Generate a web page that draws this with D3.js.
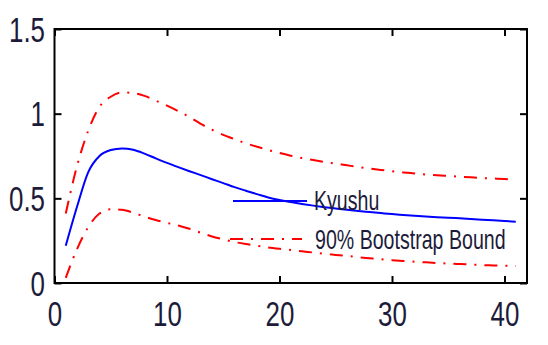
<!DOCTYPE html>
<html>
<head>
<meta charset="utf-8">
<script src="https://cdn.jsdelivr.net/npm/d3@7"></script>
<style>
  html, body { margin: 0; padding: 0; background: #fff; }
  svg { display: block; }
</style>
</head>
<body>
<svg id="chart" width="548" height="345"></svg>
<script>
// Impulse response for Kyushu with 90% bootstrap bounds, horizons 1..41
const horizons = d3.range(1, 42);

const kyushu = [
  0.22, 0.45, 0.655, 0.75, 0.785, 0.795, 0.787, 0.764, 0.736, 0.709,
  0.684, 0.66, 0.637, 0.613, 0.59, 0.566, 0.545, 0.525, 0.505, 0.49,
  0.478, 0.467, 0.457, 0.448, 0.44, 0.432, 0.425, 0.419, 0.413, 0.407,
  0.402, 0.397, 0.393, 0.389, 0.386, 0.382, 0.378, 0.374, 0.37, 0.366,
  0.362
];

const upperBound = [
  0.41, 0.69, 0.90, 1.04, 1.10, 1.125, 1.122, 1.105, 1.077, 1.047,
  1.015, 0.98, 0.94, 0.905, 0.875, 0.85, 0.825, 0.805, 0.785, 0.768,
  0.752, 0.738, 0.726, 0.715, 0.705, 0.695, 0.685, 0.676, 0.668, 0.66,
  0.653, 0.647, 0.641, 0.636, 0.632, 0.628, 0.624, 0.62, 0.617, 0.614,
  0.61
];

const lowerBound = [
  0.03, 0.20, 0.33, 0.41, 0.435, 0.432, 0.415, 0.392, 0.372, 0.355,
  0.34, 0.32, 0.297, 0.275, 0.258, 0.242, 0.23, 0.22, 0.21, 0.202,
  0.195, 0.187, 0.18, 0.172, 0.166, 0.16, 0.152, 0.146, 0.14, 0.135,
  0.13, 0.126, 0.122, 0.118, 0.115, 0.112, 0.109, 0.106, 0.104, 0.102,
  0.10
];

const xTicks = [0, 10, 20, 30, 40];
const yTicks = [0, 0.5, 1, 1.5];
const yTickLabels = ["0", "0.5", "1", "1.5"];
const legendNames = ["Kyushu", "90% Bootstrap Bound"];

const svg = d3.select("#chart");
const plot = { left: 54.5, right: 527, top: 29, bottom: 283 };

const x = d3.scaleLinear().domain([0, 42]).range([plot.left, plot.right]);
const y = d3.scaleLinear().domain([0, 1.5]).range([plot.bottom, plot.top]);

const textColor = "#1c1c3a";
const fontFamily = "'Liberation Sans', Arial, sans-serif";
const squeeze = 0.72;
const tickLen = 7;

// frame
svg.append("rect")
  .attr("x", plot.left).attr("y", plot.top)
  .attr("width", plot.right - plot.left)
  .attr("height", plot.bottom - plot.top)
  .attr("fill", "none").attr("stroke", "#000").attr("stroke-width", 2);

// axes with inward ticks
const gBottom = svg.append("g")
  .attr("transform", `translate(0,${plot.bottom})`)
  .call(d3.axisBottom(x).tickValues(xTicks).tickSize(-tickLen).tickPadding(17));
const gTop = svg.append("g")
  .attr("transform", `translate(0,${plot.top})`)
  .call(d3.axisTop(x).tickValues(xTicks).tickSize(-tickLen).tickFormat(""));
const gLeft = svg.append("g")
  .attr("transform", `translate(${plot.left},0)`)
  .call(d3.axisLeft(y).tickValues(yTicks).tickSize(-tickLen)
    .tickFormat((d, i) => yTickLabels[i]));
const gRight = svg.append("g")
  .attr("transform", `translate(${plot.right},0)`)
  .call(d3.axisRight(y).tickValues(yTicks).tickSize(-tickLen).tickFormat(""));

[gBottom, gTop, gLeft, gRight].forEach(g => {
  g.select(".domain").remove();
  g.selectAll(".tick line").attr("stroke", "#000").attr("stroke-width", 2);
});

gBottom.selectAll(".tick text")
  .attr("font-family", fontFamily)
  .attr("font-size", 36)
  .attr("fill", textColor)
  .attr("transform", `scale(${squeeze},1)`);

gLeft.selectAll(".tick text")
  .attr("font-family", fontFamily)
  .attr("font-size", 36)
  .attr("fill", textColor)
  .attr("x", -9.5 / squeeze)
  .attr("dy", "0.34em")
  .attr("transform", `scale(${squeeze},1)`);

// series
const line = d3.line()
  .x((d, i) => x(horizons[i]))
  .y(d => y(d))
  .curve(d3.curveMonotoneX);

const dashDot = "13,8,2,8";

svg.append("path").datum(upperBound)
  .attr("d", line).attr("fill", "none")
  .attr("stroke", "#ff0000").attr("stroke-width", 2)
  .attr("stroke-dasharray", dashDot);

svg.append("path").datum(lowerBound)
  .attr("d", line).attr("fill", "none")
  .attr("stroke", "#ff0000").attr("stroke-width", 2)
  .attr("stroke-dasharray", dashDot);

svg.append("path").datum(kyushu)
  .attr("d", line).attr("fill", "none")
  .attr("stroke", "#0000ff").attr("stroke-width", 2);

// legend (no frame)
const legend = svg.append("g");
const legendItems = [
  { name: legendNames[0], color: "#0000ff", dash: null, x1: 233, x2: 307, ly: 201, tx: 314, ty: 210 },
  { name: legendNames[1], color: "#ff0000", dash: dashDot, x1: 230, x2: 302, ly: 239, tx: 315, ty: 249 }
];
legendItems.forEach(it => {
  legend.append("line")
    .attr("x1", it.x1).attr("x2", it.x2)
    .attr("y1", it.ly).attr("y2", it.ly)
    .attr("stroke", it.color).attr("stroke-width", 2)
    .attr("stroke-dasharray", it.dash);
  legend.append("text")
    .attr("transform", `translate(${it.tx},${it.ty}) scale(0.7,1)`)
    .attr("font-family", fontFamily)
    .attr("font-size", 28)
    .attr("fill", textColor)
    .text(it.name);
});
</script>
</body>
</html>
